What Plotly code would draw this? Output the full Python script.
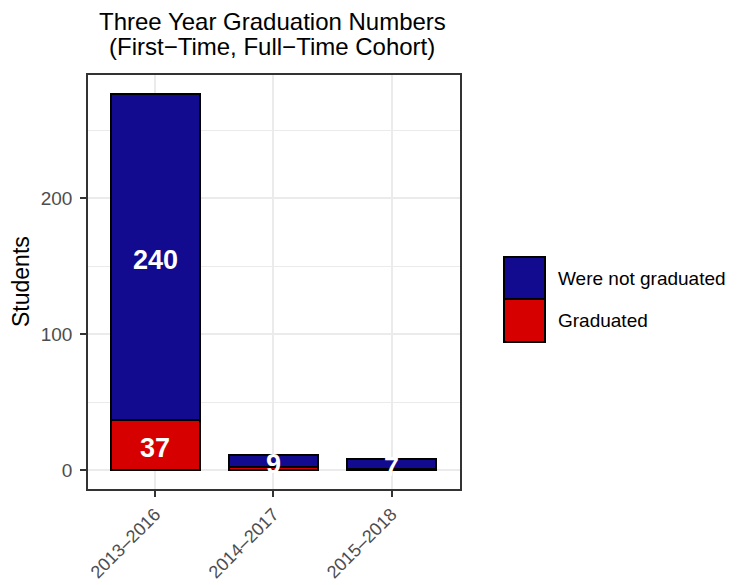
import plotly.graph_objects as go

cohorts = ["2013\u20132016", "2014\u20132017", "2015\u20132018"]
graduated = [37, 2, 1]
not_graduated = [240, 9, 7]
series_names = ["Were not graduated", "Graduated"]
colors = {"Were not graduated": "#120A8F", "Graduated": "#D60000"}
y_ticks = [0, 100, 200]
title_lines = ["Three Year Graduation Numbers", "(First\u2212Time, Full\u2212Time Cohort)"]
label_min = 5

# page body has an 8px margin: figure is drawn 8px right/down in the window
OFF = 8
W, H = 738 - OFF, 585 - OFF
L, R, T, B = 88 - OFF, 278, 75 - OFF, 96
font = "Liberation Sans, Arial, sans-serif"

fig = go.Figure()
fig.add_trace(go.Bar(x=cohorts, y=graduated, name="Graduated",
                     marker=dict(color=colors["Graduated"], line=dict(color="black", width=2)),
                     width=0.75, showlegend=False))
fig.add_trace(go.Bar(x=cohorts, y=not_graduated, name="Were not graduated",
                     marker=dict(color=colors["Were not graduated"], line=dict(color="black", width=2)),
                     width=0.75, showlegend=False))

# labels at the middle of each stacked segment
for c, g, n in zip(cohorts, graduated, not_graduated):
    for val, mid in ((g, g / 2), (n, g + n / 2)):
        if val >= label_min:
            fig.add_annotation(x=c, y=mid, xref="x", yref="y", text=str(val), showarrow=False,
                               yshift=-3, font=dict(family=font, size=27, color="white", weight="bold"))

# window-pixel -> paper coordinates
pw, ph = W - L - R, H - T - B
def px(x): return (x - OFF - L) / pw
def py(y): return (H - B - (y - OFF)) / ph

# manual legend (large ggplot-style keys)
keys = [(257, 299), (299, 342)]
for name, (y0, y1) in zip(series_names, keys):
    fig.add_shape(type="rect", xref="paper", yref="paper",
                  x0=px(504), x1=px(545), y0=py(y1), y1=py(y0),
                  fillcolor=colors[name], line=dict(color="black", width=2))
    fig.add_annotation(xref="paper", yref="paper", x=px(557), y=py((y0 + y1) / 2),
                       text=name, showarrow=False, xanchor="left", yanchor="middle",
                       borderpad=0, font=dict(family=font, size=19, color="black"))

# y axis title
fig.add_annotation(xref="paper", yref="paper", x=px(21), y=py(282), text="Students",
                   textangle=-90, showarrow=False, xanchor="center", yanchor="middle",
                   borderpad=0, font=dict(family=font, size=23, color="black"))

# title (two centred lines)
for line, yc in zip(title_lines, (21, 47)):
    fig.add_annotation(xref="paper", yref="paper", x=px(272), y=py(yc), text=line,
                       showarrow=False, xanchor="center", yanchor="middle",
                       borderpad=0, font=dict(family=font, size=24, color="black"))

totals = [g + n for g, n in zip(graduated, not_graduated)]
ymax = max(totals)
fig.update_layout(
    width=W, height=H, barmode="stack",
    margin=dict(l=L, r=R, t=T, b=B, autoexpand=False),
    paper_bgcolor="white", plot_bgcolor="white",
    font=dict(family=font),
    xaxis=dict(range=[-0.57, 2.58], tickangle=-45, showgrid=True, gridcolor="#EBEBEB", gridwidth=1.5,
               showline=True, mirror=True, linecolor="#333333", linewidth=1.5, automargin=False,
               ticks="outside", ticklen=6, tickwidth=1.5, tickcolor="#333333",
               tickfont=dict(family=font, size=18, color="#4D4D4D")),
    yaxis=dict(range=[-0.05 * ymax, 1.05 * ymax], tickvals=y_ticks, showgrid=True,
               gridcolor="#EBEBEB", gridwidth=1.5, zeroline=False, automargin=False,
               minor=dict(dtick=50, tick0=0, showgrid=True, gridcolor="#EBEBEB", gridwidth=0.8),
               showline=True, mirror=True, linecolor="#333333", linewidth=1.5,
               ticks="outside", ticklen=6, tickwidth=1.5, tickcolor="#333333",
               ticklabelstandoff=4,
               tickfont=dict(family=font, size=19, color="#4D4D4D")),
)
fig.write_html("out.html")
